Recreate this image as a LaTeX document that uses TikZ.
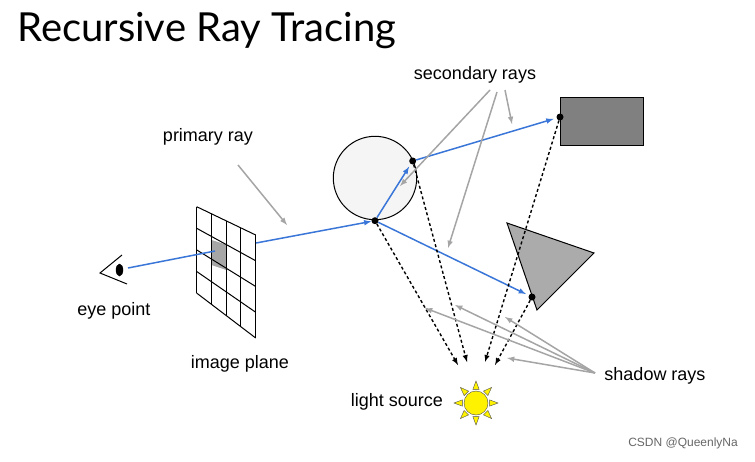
\documentclass[tikz,border=0pt]{standalone}
\usepackage{fontspec}
\setmainfont{Liberation Sans}
\newfontfamily\titlefont{Lato}
\usetikzlibrary{positioning,calc}
\definecolor{rayblue}{RGB}{58,118,216}
\definecolor{notegray}{RGB}{165,165,165}
\begin{document}
\begin{tikzpicture}[x=1pt,y=-1pt,
    label/.style={%
      font=\fontsize{18}{20}\selectfont,
      inner sep=0pt,
    },
  ]

\tikzstyle{hit} = [circle, fill=black, inner sep=0pt, minimum size=7pt]
\tikzstyle{ray} = [draw=rayblue, line width=1.5pt, -latex]
\tikzstyle{shadow} = [draw=black, line width=1.4pt, dash pattern=on 3pt off 2.5pt, -latex]
\tikzstyle{note} = [draw=notegray, line width=1.5pt, -latex]

\useasboundingbox (0,0) rectangle (755,461);

    \node [anchor=base west, inner sep=0pt, font=\titlefont\fontsize{40}{44}\selectfont] (title) at (17,41) {Recursive Ray Tracing};

    % eye
    \draw [line width=1pt] (122,255) -- (100,273) -- (127,284);
    \draw [fill=black] (119.5,270) ellipse (3.5pt and 6pt);
    \coordinate (eye) at (128,268);

    % image plane
    \fill [gray!70] (211.5,240) -- (226.3,244.6) -- (226.3,270) -- (211.5,265) -- cycle;
    \foreach \i in {0,...,4} {
      \draw [line width=1pt] (196.7+14.75*\i,206.7+7.08*\i) -- (196.7+14.75*\i,293+11.25*\i);
      \draw [line width=1pt] (196.7,206.7+21.6*\i) -- (255.7,235+25.75*\i);
    }
    \coordinate (pix) at (215,251);
    \coordinate (plane) at (256,243);

    % objects
    \draw [line width=1pt, fill=black!4] (375,178) circle (41.7);
    \draw [line width=1pt, fill=black!50] (560,97) rectangle (643,145);
    \draw [line width=1pt, fill=black!33] (507,223) -- (594,253) -- (537,310) -- cycle;

    \node [hit] (A) at (375,220.7) {};
    \node [hit] (B) at (412.7,161) {};
    \node [hit] (C) at (560,117) {};
    \node [hit] (D) at (532,297) {};

    % light
    \foreach \a in {0,45,...,315}
      \draw [fill=yellow, draw=black!70, thin] ($(476,403)+(\a:22)$) -- ($(476,403)+(\a+13:14)$) -- ($(476,403)+(\a-13:14)$) -- cycle;
    \node [circle, draw=black!70, fill=yellow, minimum size=24pt, inner sep=0pt] (sun) at (476,403) {};

    \coordinate (LA) at (458,365);
    \coordinate (LB) at (467,362);
    \coordinate (LC) at (485,362);
    \coordinate (LD) at (495,365);

    \draw [draw=rayblue, line width=1.5pt] (eye) -- (pix);
    \draw [ray] (plane) -- (A);
    \draw [ray, shorten >=3pt] (A) -- (B);
    \draw [ray, shorten >=3pt] (B) -- (C);
    \draw [ray, shorten >=3pt] (A) -- (D);

    \draw [shadow] (A) -- (LA);
    \draw [shadow] (B) -- (LB);
    \draw [shadow] (C) -- (LC);
    \draw [shadow] (D) -- (LD);

    % labels
    \node [label] (eyel) at (114,311) {eye point};
    \node [label] (planel) at (240,364) {image plane};
    \node [label] (sunl) at (397,402) {light source};
    \node [label] (prim) at (208,137) {primary ray};
    \node [label] (sec) at (475,75) {secondary rays};
    \node [label] (shad) at (655,376) {shadow rays};
    \node [anchor=east, inner sep=0pt, font=\fontsize{12}{14}\selectfont, text=black!60] (mark) at (738,443) {CSDN @QueenlyNa};

    \coordinate (secA) at (400,186);
    \coordinate (secB) at (448,248);
    \coordinate (secC) at (512,124);
    \draw [note] (238,165) -- (287,225);
    \draw [note] (490,90) -- (secA);
    \draw [note] (497,92) -- (secB);
    \draw [note] (505,90) -- (secC);
    \coordinate (sh) at (595,373);
    \draw [note] (sh) -- (455,305);
    \draw [note] (sh) -- (425,308);
    \draw [note] (sh) -- (505,317);
    \draw [note] (sh) -- (507,358);
\end{tikzpicture}
\end{document}
